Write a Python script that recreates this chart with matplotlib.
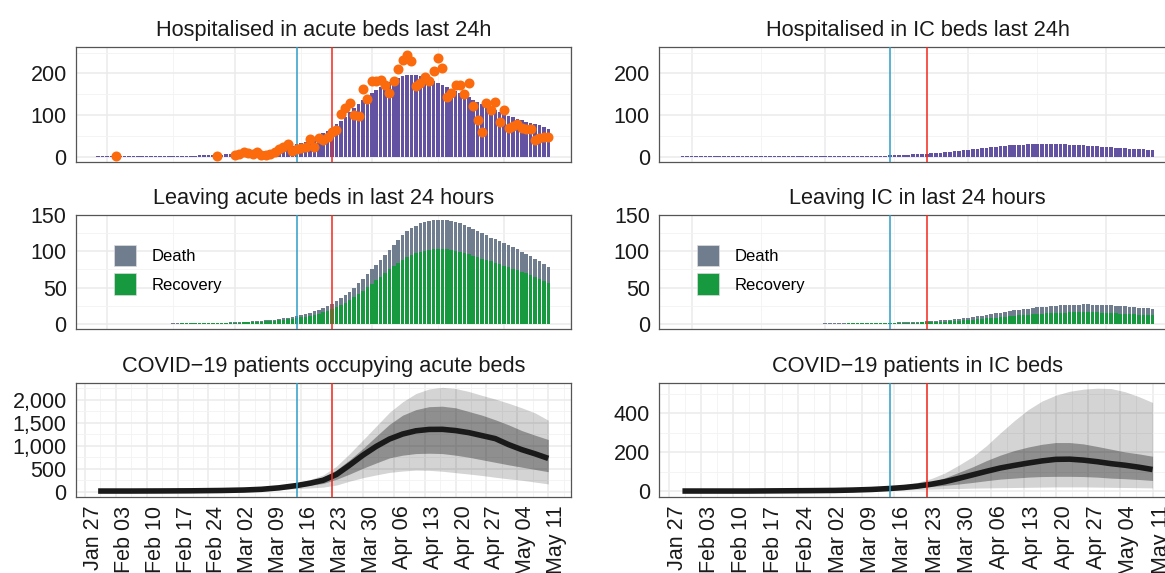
import matplotlib
matplotlib.use("Agg")
import matplotlib.pyplot as plt
import matplotlib.dates as mdates
import matplotlib.ticker as mticker
import matplotlib.transforms as mtransforms
from matplotlib.patches import Patch
import pandas as pd

plt.rcParams['font.family'] = ['Liberation Sans', 'DejaVu Sans']

# daily model output, Jan 30 .. May 11 2020
days = pd.date_range("2020-01-30", "2020-05-11")

acute_admit = [
    0.2, 0.2, 0.3, 0.3, 0.3, 0.4, 0.4, 0.5, 0.5, 0.6,
    0.6, 0.7, 0.8, 0.9, 1.0, 1.1, 1.2, 1.4, 1.5, 1.7,
    1.9, 2.1, 2.4, 2.7, 3.0, 3.3, 3.7, 4.1, 4.6, 5.1,
    5.7, 6.4, 7.1, 7.9, 8.8, 9.8, 11, 12, 13.5, 15,
    17, 19, 21, 23, 26, 29, 32, 36, 40, 45,
    50, 56, 62, 69, 77, 86, 96, 106, 116, 126,
    136, 145, 153, 161, 168, 174, 180, 185, 189, 193,
    196, 197, 196, 194, 191, 187, 182, 177, 172, 167,
    162, 157, 152, 147, 142, 137, 132, 127, 122, 118,
    111, 106, 102, 98, 94, 90, 87, 84, 81, 78,
    75, 71, 67]

ic_admit = [
    0.1, 0.1, 0.1, 0.1, 0.1, 0.1, 0.1, 0.2, 0.2, 0.2,
    0.2, 0.2, 0.3, 0.3, 0.3, 0.3, 0.4, 0.4, 0.4, 0.5,
    0.5, 0.5, 0.5, 0.6, 0.6, 0.6, 0.7, 0.7, 0.7, 0.8,
    0.8, 0.9, 0.9, 1.0, 1.0, 1.1, 1.2, 1.3, 1.4, 1.5,
    1.6, 1.8, 2.0, 2.2, 2.4, 2.7, 3.0, 3.3, 3.7, 4.2,
    5.0, 5.6, 6.3, 7.0, 7.8, 8.6, 9.5, 10.4, 11.3, 12.3,
    14, 15.2, 16.4, 17.6, 18.8, 20, 21.2, 22.4, 23.5, 24.6,
    25.6, 26.5, 27.3, 28, 28.6, 29.1, 29.5, 29.8, 30, 30.1,
    30.1, 30, 29.7, 29.3, 28.8, 28.2, 27.6, 26.9, 26.2, 25.5,
    24.8, 24, 23.2, 22.4, 21.6, 20.8, 20, 19.2, 18.4, 17.6,
    16.9, 16.2, 15.5]

acute_leave_total = [
    0.0, 0.0, 0.0, 0.0, 0.1, 0.1, 0.1, 0.1, 0.1, 0.1,
    0.2, 0.2, 0.2, 0.2, 0.3, 0.3, 0.3, 0.4, 0.4, 0.5,
    0.5, 0.6, 0.7, 0.8, 0.9, 1.0, 1.1, 1.3, 1.5, 1.7,
    1.9, 2.1, 2.4, 2.7, 3.0, 3.4, 3.8, 4.2, 4.7, 5.3,
    5.9, 6.6, 7.4, 8.3, 9.3, 10.5, 11.8, 13.3, 15.0, 17.0,
    19.2, 21.6, 24.3, 27.5, 31.0, 35.0, 39.5, 44.5, 50.0, 56.0,
    62.0, 68.5, 75.0, 81.5, 88.0, 95.0, 102, 109, 116, 122,
    127.5, 132, 135.5, 138.5, 140.5, 142, 143, 143.3, 143.2, 142.8,
    142, 140.5, 138.5, 136, 133, 130.5, 128, 125, 122, 119,
    116.5, 114, 111.5, 109, 106, 103, 99, 96, 93, 89.5,
    86, 82.5, 78.5]

acute_leave_recovery = [
    0, 0, 0, 0, 0.1, 0.1, 0.1, 0.1, 0.1, 0.1,
    0.1, 0.1, 0.1, 0.1, 0.2, 0.2, 0.2, 0.3, 0.3, 0.4,
    0.4, 0.4, 0.5, 0.6, 0.7, 0.7, 0.8, 1.0, 1.1, 1.2,
    1.4, 1.5, 1.7, 2.0, 2.2, 2.5, 2.8, 3.1, 3.5, 3.9,
    4.4, 4.9, 5.5, 6.2, 7.0, 7.9, 8.9, 10.0, 11.2, 12.6,
    14.2, 16.0, 18.0, 20.3, 22.8, 25.6, 28.7, 32.2, 36.3, 40.8,
    45.5, 50.2, 55.0, 60.0, 65.0, 70.0, 75.0, 80.0, 84.5, 88.5,
    92.0, 95.0, 97.5, 99.5, 101, 102, 102.7, 103, 103, 102.7,
    102, 101, 99.5, 98, 96, 94, 92, 90, 88, 86,
    84, 82, 80, 78, 76, 74, 71.5, 69.5, 67, 64.5,
    62, 59.5, 57]

ic_leave_total = [
    0, 0, 0, 0, 0, 0, 0, 0, 0, 0,
    0, 0, 0, 0.1, 0.1, 0.1, 0.1, 0.1, 0.1, 0.1,
    0.1, 0.1, 0.1, 0.2, 0.2, 0.2, 0.2, 0.2, 0.3, 0.3,
    0.3, 0.4, 0.4, 0.4, 0.5, 0.5, 0.6, 0.6, 0.7, 0.8,
    0.9, 1.0, 1.1, 1.2, 1.3, 1.5, 1.6, 1.8, 2.0, 2.2,
    2.4, 2.7, 3.0, 3.3, 3.7, 4.1, 4.6, 5.1, 5.7, 6.3,
    7.0, 7.8, 8.6, 9.5, 10.4, 11.4, 12.4, 13.4, 14.4, 15.4,
    16.4, 17.4, 18.4, 19.3, 20.2, 21.0, 21.8, 22.5, 23.2, 23.8,
    24.4, 24.9, 25.4, 25.8, 26.1, 26.4, 26.6, 26.7, 26.7, 26.6,
    26.4, 26.1, 25.8, 25.4, 25.0, 24.5, 24.0, 23.5, 23.0, 22.4,
    21.9, 21.4, 20.9]

ic_leave_recovery = [
    0, 0, 0, 0, 0, 0, 0, 0, 0, 0,
    0, 0, 0, 0.1, 0.1, 0.1, 0.1, 0.1, 0.1, 0.1,
    0.1, 0.1, 0.1, 0.1, 0.1, 0.1, 0.1, 0.1, 0.2, 0.2,
    0.2, 0.2, 0.2, 0.3, 0.3, 0.3, 0.4, 0.4, 0.4, 0.5,
    0.5, 0.6, 0.7, 0.7, 0.8, 0.9, 1.0, 1.1, 1.2, 1.3,
    1.5, 1.6, 1.8, 2.0, 2.2, 2.5, 2.8, 3.1, 3.4, 3.8,
    4.2, 4.7, 5.2, 5.7, 6.2, 6.8, 7.4, 8.0, 8.6, 9.2,
    9.8, 10.4, 11.0, 11.6, 12.1, 12.6, 13.1, 13.5, 13.9, 14.3,
    14.6, 14.9, 15.2, 15.4, 15.6, 15.7, 15.8, 15.8, 15.8, 15.7,
    15.6, 15.4, 15.2, 14.9, 14.6, 14.2, 13.8, 13.4, 13.0, 12.6,
    12.2, 11.9, 11.6]

# observed acute admissions
obs_dates = pd.to_datetime(["2020-02-03", "2020-02-26"]).append(
    pd.date_range("2020-03-01", "2020-05-11"))
obs_admit = [
    2, 1,
    3, 7, 10, 8, 5, 12, 3, 4, 7, 12, 18, 24, 31, 14,
    17, 20, 24, 42, 22, 44, 40, 46, 59, 64,
    102, 116, 128, 100, 98, 162, 138, 182, 182, 185,
    172, 152, 182, 210, 233, 244, 230, 170, 176, 190,
    182, 206, 238, 212, 142, 152, 172, 172, 150, 176,
    122, 88, 58, 128, 112, 132, 82, 112, 68, 74,
    78, 68, 66, 66, 40, 44, 47, 48]

# bed occupancy: median and two uncertainty bands
occ_dates = pd.to_datetime([
    "2020-01-30", "2020-02-06", "2020-02-13", "2020-02-20", "2020-02-27",
    "2020-03-03", "2020-03-07", "2020-03-11", "2020-03-15", "2020-03-18",
    "2020-03-21", "2020-03-24", "2020-03-27", "2020-03-30", "2020-04-02",
    "2020-04-05", "2020-04-08", "2020-04-11", "2020-04-14", "2020-04-17",
    "2020-04-20", "2020-04-23", "2020-04-26", "2020-04-29", "2020-05-02",
    "2020-05-05", "2020-05-08", "2020-05-11"])

acute_med = [10, 10, 12, 15, 22, 32, 48, 80, 130, 180, 245, 370, 575, 790,
             980, 1140, 1250, 1320, 1350, 1352, 1325, 1280, 1215, 1150, 1020,
             910, 820, 720]
acute_q25 = [8, 8, 10, 12, 18, 25, 37, 62, 100, 135, 175, 265, 380, 505,
             620, 730, 790, 825, 832, 825, 790, 745, 690, 635, 580, 530, 480, 430]
acute_q75 = [12, 12, 14, 18, 26, 38, 58, 95, 160, 225, 310, 470, 690, 935,
             1200, 1460, 1660, 1780, 1845, 1855, 1820, 1740, 1660, 1560, 1450,
             1325, 1225, 1130]
acute_q05 = [6, 6, 7, 9, 13, 18, 26, 42, 62, 78, 95, 140, 225, 300,
             360, 415, 445, 465, 460, 440, 410, 380, 348, 310, 275, 245, 205, 165]
acute_q95 = [14, 14, 17, 22, 32, 46, 70, 115, 190, 260, 360, 550, 825, 1120,
             1420, 1720, 1950, 2130, 2230, 2265, 2240, 2175, 2090, 2010, 1920,
             1820, 1710, 1550]

ic_med = [2, 2, 2, 3, 4, 5, 7, 10, 15, 20, 27, 37, 50, 67, 85, 103, 120,
          133, 145, 156, 164, 165, 160, 152, 142, 134, 124, 112]
ic_q25 = [1, 1, 1, 2, 3, 3, 5, 7, 10, 14, 19, 25, 31, 38, 46, 55, 63, 68,
          73, 76, 77, 77, 76, 73, 68, 65, 61, 56]
ic_q75 = [3, 3, 3, 4, 5, 7, 9, 13, 19, 25, 33, 47, 70, 98, 126, 158, 186,
          209, 227, 241, 250, 250, 243, 230, 216, 202, 192, 180]
ic_q05 = [0, 0, 0, 1, 1, 2, 2, 4, 6, 8, 10, 12, 14, 15, 17, 18, 19, 20,
          21, 22, 23, 23, 23, 22, 21, 20, 19, 18]
ic_q95 = [3, 3, 4, 5, 6, 8, 11, 16, 25, 34, 46, 66, 95, 135, 178, 235, 300,
          362, 418, 462, 492, 512, 523, 528, 526, 510, 485, 455]

date_blue = pd.Timestamp("2020-03-15")
date_red = pd.Timestamp("2020-03-23")

purple = "#6351A1"
orange = "#FB6A0C"
green = "#17993F"
slate = "#6F7D8F"

W, H = 1165, 573
fig = plt.figure(figsize=(W / 100, H / 100), dpi=100)


def add_panel(x0, width, top, bottom):
    return fig.add_axes([x0 / W, 1 - bottom / H, width / W, (bottom - top) / H])


def style(ax, ylim, ymaj, ymin, weekly):
    ax.set_xlim(pd.Timestamp("2020-01-24 22:00"), pd.Timestamp("2020-05-16 02:00"))
    ax.set_ylim(*ylim)
    ax.set_axisbelow(True)
    if weekly:
        ax.xaxis.set_major_locator(mdates.WeekdayLocator(byweekday=mdates.MO))
        ax.xaxis.set_minor_locator(mticker.FixedLocator(mdates.date2num(
            pd.date_range("2020-01-23 12:00", "2020-05-15", freq="7D"))))
        ax.xaxis.set_major_formatter(mdates.DateFormatter("%b %d"))
    else:
        ax.xaxis.set_major_locator(mdates.MonthLocator())
        ax.xaxis.set_minor_locator(mdates.MonthLocator(bymonthday=16))
        ax.tick_params(axis="x", labelbottom=False)
    ax.yaxis.set_major_locator(mticker.MultipleLocator(ymaj))
    ax.yaxis.set_minor_locator(mticker.MultipleLocator(ymin))
    ax.grid(which="major", color="#EBEBEB", lw=1.1)
    ax.grid(which="minor", color="#F3F3F3", lw=0.6)
    ax.tick_params(which="both", length=0, labelsize=15.5, pad=6.5, colors="#1A1A1A")
    for sp in ax.spines.values():
        sp.set_color("#555555")
        sp.set_linewidth(0.9)
    ax.axvline(date_blue, color="#2C9EC6", lw=1.1, zorder=4)
    ax.axvline(date_red, color="#F5271B", lw=1.1, zorder=4)
    if weekly:
        off = mtransforms.ScaledTranslation(0.085, 0, fig.dpi_scale_trans)
        for lab in ax.get_xticklabels():
            lab.set_rotation(90)
            lab.set_transform(lab.get_transform() + off)


cols = [(75.7, 495), (659, 517)]
rows = [(46.7, 161.7), (215, 329), (382.7, 496.7)]
title_kw = dict(fontsize=15.7, pad=8, color="#1A1A1A")
bar_kw = dict(width=0.8, linewidth=0)

# row 1: admissions
ax = add_panel(cols[0][0], cols[0][1], *rows[0])
ax.bar(days, acute_admit, color=purple, **bar_kw)
ax.scatter(obs_dates, obs_admit, s=52, color=orange, lw=0, zorder=5)
style(ax, (-12.5, 264), 100, 50, False)
ax.set_title("Hospitalised in acute beds last 24h", **title_kw)

ax = add_panel(cols[1][0], cols[1][1], *rows[0])
ax.bar(days, ic_admit, color=purple, **bar_kw)
style(ax, (-12.5, 264), 100, 50, False)
ax.set_title("Hospitalised in IC beds last 24h", **title_kw)

# row 2: leaving beds (recovery drawn over the total, death shows on top)
for (x0, w), total, rec, title in [
        (cols[0], acute_leave_total, acute_leave_recovery, "Leaving acute beds in last 24 hours"),
        (cols[1], ic_leave_total, ic_leave_recovery, "Leaving IC in last 24 hours")]:
    ax = add_panel(x0, w, *rows[1])
    ax.bar(days, total, color=slate, **bar_kw)
    ax.bar(days, rec, color=green, **bar_kw)
    style(ax, (-7.2, 150.2), 50, 25, False)
    ax.set_title(title, **title_kw)
    handles = [Patch(facecolor=slate, edgecolor="#DDDDDD", lw=0.5),
               Patch(facecolor=green, edgecolor="#DDDDDD", lw=0.5)]
    ax.legend(handles, ["Death", "Recovery"], loc="upper left",
              bbox_to_anchor=(38 / w, 1 - 29.5 / 114), frameon=False,
              fontsize=12, handlelength=1.32, handleheight=1.65,
              handletextpad=0.95, labelspacing=0.42, borderpad=0,
              borderaxespad=0)

# row 3: occupancy
for (x0, w), med, q25, q75, q05, q95, ylim, ymaj, title, fmt in [
        (cols[0], acute_med, acute_q25, acute_q75, acute_q05, acute_q95,
         (-113, 2366), 500, "COVID\u221219 patients occupying acute beds", True),
        (cols[1], ic_med, ic_q25, ic_q75, ic_q05, ic_q95,
         (-27, 556), 200, "COVID\u221219 patients in IC beds", False)]:
    ax = add_panel(x0, w, *rows[2])
    ax.fill_between(occ_dates, q05, q95, color="black", alpha=0.17, lw=0)
    ax.fill_between(occ_dates, q25, q75, color="black", alpha=0.32, lw=0)
    ax.plot(occ_dates, med, color="#1A1A1A", lw=4.0, solid_capstyle="butt",
            solid_joinstyle="round", zorder=3)
    style(ax, ylim, ymaj, ymaj / 2, True)
    if fmt:
        ax.yaxis.set_major_formatter(mticker.FuncFormatter(lambda v, p: f"{v:,.0f}"))
    ax.set_title(title, **title_kw)

fig.savefig("out.png", dpi=100)
